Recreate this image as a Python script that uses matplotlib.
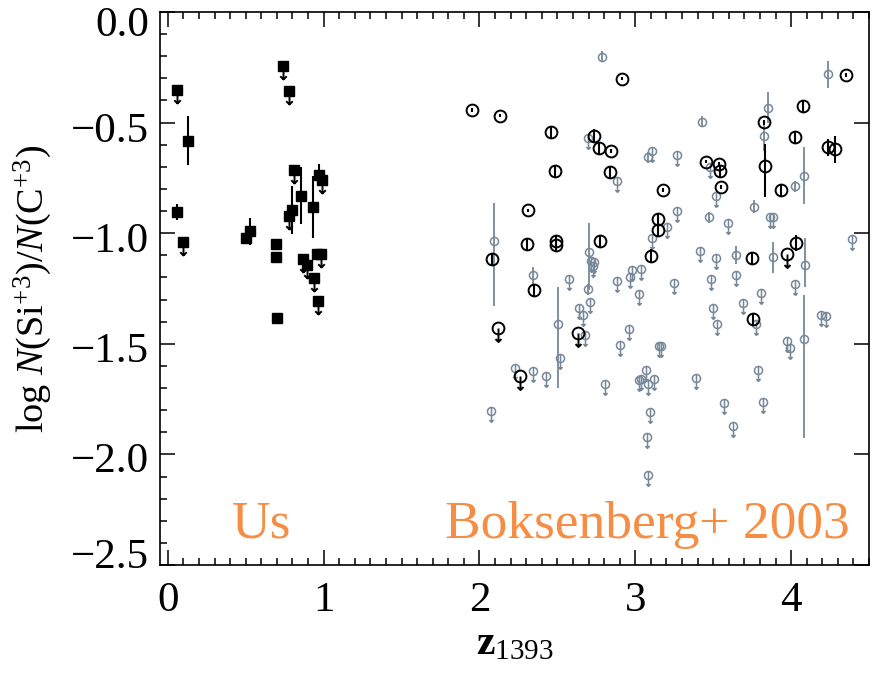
import matplotlib.pyplot as plt
import matplotlib.transforms as mtransforms
from matplotlib.path import Path
from matplotlib.ticker import MultipleLocator
import numpy as np

plt.rcParams['font.family'] = ['Liberation Serif', 'DejaVu Serif']
plt.rcParams['mathtext.fontset'] = 'custom'
plt.rcParams['mathtext.rm'] = 'Liberation Serif'
plt.rcParams['mathtext.it'] = 'Liberation Serif:italic'
plt.rcParams['mathtext.bf'] = 'Liberation Serif:bold'

# --- our sample (filled squares) ---
us_z = [0.056, 0.128, 0.056, 0.098, 0.50, 0.527, 0.694, 0.692, 0.70, 0.742, 0.776, 0.81,
        0.797, 0.778, 0.857, 0.93, 0.972, 0.989, 0.87, 0.891, 0.957, 0.981, 0.94, 0.964]
us_ratio = [-0.353, -0.581, -0.905, -1.04, -1.02, -0.992, -1.047, -1.108, -1.384, -0.246, -0.355, -0.714,
            -0.895, -0.922, -0.83, -0.88, -0.738, -0.759, -1.116, -1.143, -1.092, -1.092, -1.203, -1.307]
us_err = [0, 0.11, 0.035, 0, 0.03, 0.06, 0.02, 0.02, 0, 0, 0, 0,
          0.11, 0, 0.13, 0.14, 0.05, 0, 0, 0, 0.02, 0, 0, 0]
us_lim = [1, 0, 0, 1, 0, 0, 0, 0, 0, 1, 1, 1,
          0, 1, 0, 0, 0, 1, 1, 1, 0, 1, 1, 1]

# --- Boksenberg+ 2003, black circles (measurements) ---
bk_z = [1.951, 2.13, 2.915, 2.457, 2.735, 2.765, 2.844, 2.485, 2.838, 2.31, 4.355, 4.075,
        3.827, 4.028, 4.237, 4.282, 3.453, 3.538, 3.543, 3.831, 3.551, 3.181, 3.934, 3.143,
        3.143, 2.079, 2.303, 2.491, 2.491, 2.776, 2.348, 3.1, 3.752, 4.034, 3.755]
bk_ratio = [-0.444, -0.468, -0.301, -0.542, -0.559, -0.616, -0.628, -0.718, -0.724, -0.897, -0.286, -0.426,
            -0.499, -0.566, -0.612, -0.621, -0.676, -0.687, -0.721, -0.697, -0.792, -0.804, -0.804, -0.937,
            -0.985, -1.117, -1.05, -1.037, -1.052, -1.035, -1.256, -1.101, -1.113, -1.045, -1.388]
bk_err_lo = [0.008, 0.008, 0.008, 0.028, 0.028, 0.028, 0.008, 0.028, 0.028, 0.008, 0.008, 0.028,
             0.012, 0.028, 0.04, 0.06, 0.008, 0.008, 0.028, 0.14, 0.008, 0.008, 0.028, 0.028,
             0.028, 0.028, 0.028, 0.028, 0.028, 0.028, 0.028, 0.028, 0.028, 0.035, 0.028]
bk_err_hi = [0.008, 0.008, 0.008, 0.028, 0.028, 0.028, 0.008, 0.028, 0.028, 0.008, 0.008, 0.028,
             0.012, 0.028, 0.04, 0.06, 0.008, 0.008, 0.028, 0.10, 0.008, 0.008, 0.028, 0.028,
             0.028, 0.028, 0.028, 0.028, 0.028, 0.028, 0.028, 0.028, 0.028, 0.035, 0.028]
# black upper limits
bk_lim_z = [2.122, 2.63, 2.263, 3.976]
bk_lim_ratio = [-1.429, -1.452, -1.644, -1.095]

# --- Boksenberg+ 2003, grey circles (measurements) ---
gr_z = [2.784, 3.08, 4.237, 3.85, 3.427, 3.827, 4.081, 4.023, 3.474, 3.76, 2.092, 2.705,
        2.342, 2.697, 2.502, 3.647, 3.883, 4.09, 4.085]
gr_ratio = [-0.202, -0.657, -0.282, -0.432, -0.496, -0.56, -0.74, -0.788, -0.928, -0.88, -1.037, -1.083,
            -1.191, -1.253, -1.41, -1.098, -1.108, -1.143, -1.479]
gr_err_lo = [0.025, 0.025, 0.06, 0.07, 0.025, 0.07, 0.13, 0.025, 0.025, 0.03, 0.29, 0.173,
             0.04, 0.025, 0.29, 0.04, 0.07, 0.10, 0.447]
gr_err_hi = [0.025, 0.025, 0.06, 0.07, 0.025, 0.07, 0.13, 0.025, 0.025, 0.03, 0.173, 0.128,
             0.04, 0.025, 0.169, 0.04, 0.07, 0.12, 0.20]
# grey upper limits
gr_lim_z = [2.699, 3.105, 2.883, 3.267, 3.479, 3.517, 3.271, 3.592, 3.863, 3.885, 3.203, 3.105,
            2.716, 2.737, 2.726, 2.573, 2.712, 2.641, 2.662, 2.88, 2.966, 2.977, 3.037, 3.026,
            2.519, 2.678, 2.962, 2.904, 3.15, 2.231, 2.342, 2.427, 2.808, 3.021, 3.036, 3.068,
            3.083, 3.122, 2.071, 3.094, 3.073, 3.081, 3.417, 3.517, 4.39, 3.246, 3.485, 3.647,
            3.81, 4.026, 3.498, 3.692, 3.524, 3.774, 4.194, 4.226, 3.972, 3.992, 3.165, 3.387,
            3.788, 3.571, 3.821, 3.626]
gr_lim_ratio = [-0.571, -0.627, -0.763, -0.646, -0.699, -0.834, -0.899, -0.955, -0.926, -0.926, -0.97, -1.02,
                -1.125, -1.132, -1.15, -1.206, -1.309, -1.336, -1.369, -1.218, -1.2, -1.166, -1.161, -1.276,
                -1.565, -1.459, -1.434, -1.507, -1.509, -1.61, -1.622, -1.647, -1.68, -1.662, -1.659, -1.617,
                -1.68, -1.658, -1.805, -1.808, -1.921, -2.094, -1.08, -1.11, -1.027, -1.227, -1.208, -1.191,
                -1.271, -1.23, -1.336, -1.316, -1.411, -1.411, -1.372, -1.376, -1.489, -1.519, -1.512, -1.655,
                -1.617, -1.768, -1.765, -1.873]

y_ticks = [0.0, -0.5, -1.0, -1.5, -2.0, -2.5]
y_ticklabels = ['0.0', '\u22120.5', '\u22121.0', '\u22121.5', '\u22122.0', '\u22122.5']
x_ticks = [0, 1, 2, 3, 4]
x_ticklabels = ['0', '1', '2', '3', '4']

GREY = '#778899'
ORANGE = '#F68D45'


def arrow_marker(top=0.0, head=0.25):
    # stem from the point down, open arrow head at the bottom
    verts = [(0, top), (0, -1), (-head, -1 + head), (0, -1), (head, -1 + head)]
    codes = [Path.MOVETO, Path.LINETO, Path.MOVETO, Path.LINETO, Path.LINETO]
    return Path(verts, codes)


fig = plt.figure(figsize=(8.75, 6.74), dpi=100)
ax = fig.add_axes([160 / 875, 1 - 565 / 674, 709 / 875, 553 / 674])

# grey points
ax.errorbar(gr_z, gr_ratio, yerr=[gr_err_lo, gr_err_hi], fmt='o', ms=5.8, mfc='none',
            mec=GREY, mew=1.1, ecolor=GREY, elinewidth=1.3, capsize=0)
ax.plot(gr_lim_z, gr_lim_ratio, 'o', ms=5.8, mfc='none', mec=GREY, mew=1.1)
ax.plot(gr_lim_z, gr_lim_ratio, linestyle='none', marker=arrow_marker(0.35, 0.2),
        ms=15.5, mfc='none', mec=GREY, mew=1.1)

# black circles
ax.errorbar(bk_z, bk_ratio, yerr=[bk_err_lo, bk_err_hi], fmt='o', ms=8.5, mfc='none',
            mec='k', mew=1.4, ecolor='k', elinewidth=1.5, capsize=0)
ax.plot(bk_lim_z, bk_lim_ratio, 'o', ms=8.5, mfc='none', mec='k', mew=1.4)
ax.plot(bk_lim_z, bk_lim_ratio, linestyle='none', marker=arrow_marker(0.0, 0.22),
        ms=19.5, mfc='none', mec='k', mew=1.4)

# our squares
us_z = np.array(us_z)
us_ratio = np.array(us_ratio)
us_err = np.array(us_err)
lim = np.array(us_lim) == 1
det = ~lim
ax.errorbar(us_z[det], us_ratio[det], yerr=us_err[det], fmt='s', ms=7.2, color='k',
            elinewidth=1.5, capsize=0)
ax.plot(us_z[lim], us_ratio[lim], 's', ms=7.2, color='k')
ax.plot(us_z[lim], us_ratio[lim], linestyle='none', marker=arrow_marker(0.0, 0.25),
        ms=18.7, mfc='none', mec='k', mew=1.4)

ax.text(0.1016, 0.049, 'Us', transform=ax.transAxes, color=ORANGE, fontsize=38.5, va='baseline')
ax.text(0.402, 0.049, 'Boksenberg+ 2003', transform=ax.transAxes, color=ORANGE, fontsize=38.5,
        va='baseline')

ax.set_xlim(-0.05, 4.5)
ax.set_ylim(-2.5, 0.0)
ax.xaxis.set_minor_locator(MultipleLocator(0.1))
ax.yaxis.set_minor_locator(MultipleLocator(0.1))
ax.set_xticks(x_ticks)
ax.set_xticklabels(x_ticklabels)
ax.set_yticks(y_ticks)
ax.set_yticklabels(y_ticklabels)

ax.tick_params(which='both', direction='in', top=True, right=True, width=1.1, labelsize=31)
ax.tick_params(which='major', length=10.8)
ax.tick_params(which='minor', length=5, right=False)
ax.tick_params(axis='y', pad=8)
ax.tick_params(axis='x', pad=12)
for s in ax.spines.values():
    s.set_linewidth(1.2)

# nudge y labels like the original (end labels pulled inside the frame)
shifts_px = [-9, -5, -4, -3, -3, 12]
for lab, dy in zip(ax.get_yticklabels(), shifts_px):
    lab.set_transform(lab.get_transform()
                      + mtransforms.ScaledTranslation(0, dy / 100, fig.dpi_scale_trans))

ax.set_ylabel(r'log $N$(Si$^{+3}$)/$N$(C$^{+3}$)', fontsize=27.5, labelpad=12)
ax.set_xlabel(r'$\mathbf{z}_{\mathrm{1393}}$', fontsize=30, labelpad=3)

fig.savefig('out.png', dpi=100)
